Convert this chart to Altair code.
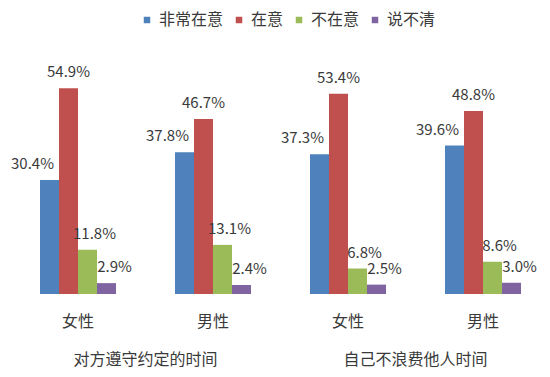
import altair as alt
import pandas as pd

TOPICS = ["对方遵守约定的时间", "自己不浪费他人时间"]
GENDERS = ["女性", "男性"]
SERIES = ["非常在意", "在意", "不在意", "说不清"]
COLORS = ["#4F81BD", "#C0504D", "#9BBB59", "#8064A2"]
VALUES = {
    "非常在意": [30.4, 37.8, 37.3, 39.6],
    "在意": [54.9, 46.7, 53.4, 48.8],
    "不在意": [11.8, 13.1, 6.8, 8.6],
    "说不清": [2.9, 2.4, 2.5, 3.0],
}

KEYS = [t + "|" + g for t in TOPICS for g in GENDERS]

rows = []
for s in SERIES:
    for k, v in zip(KEYS, VALUES[s]):
        rows.append({"key": k, "series": s, "value": v})
df = pd.DataFrame(rows)
df_cat = pd.DataFrame({"key": KEYS, "gender": [k.split("|")[1] for k in KEYS]})
df_top = pd.DataFrame({"key": [KEYS[0], KEYS[2]], "topic": TOPICS})

FONT = "Noto Sans CJK SC"
TXT = "#3a3a3a"

xenc = alt.X("key:N", sort=KEYS, axis=None,
             scale=alt.Scale(paddingInner=0.437, paddingOuter=0.1, align=1))
xoff = alt.XOffset("series:N", sort=SERIES, scale=alt.Scale(paddingInner=0, paddingOuter=0))
yenc = alt.Y("value:Q", scale=alt.Scale(domain=[0, 60]), axis=None)

bars = alt.Chart(df).mark_bar().encode(
    x=xenc, xOffset=xoff, y=yenc,
    color=alt.Color("series:N", sort=SERIES,
                    scale=alt.Scale(domain=SERIES, range=COLORS),
                    legend=alt.Legend(orient="none", legendX=126, legendY=-57,
                                      direction="horizontal", title=None,
                                      symbolType="square", symbolSize=42,
                                      symbolStrokeWidth=0,
                                      labelFontSize=16, labelFont=FONT,
                                      labelColor=TXT, columnPadding=7,
                                      labelOffset=4, padding=0)),
)

DX = {"非常在意": -17, "在意": 0, "不在意": 7, "说不清": 8}
texts = []
for s in SERIES:
    t = alt.Chart(df).transform_filter(alt.datum.series == s).transform_calculate(
        label="format(datum.value, '.1f') + '%'"
    ).mark_text(dx=DX[s], dy=-11, baseline="alphabetic", fontSize=15,
                font=FONT, color=TXT).encode(
        x=xenc, xOffset=xoff, y=yenc, text="label:N")
    texts.append(t)

cats = alt.Chart(df_cat).mark_text(baseline="middle", fontSize=16, font=FONT,
                                   color=TXT).encode(
    x=xenc, y=alt.value(253), text="gender:N")

tops = alt.Chart(df_top).mark_text(baseline="middle", fontSize=16, font=FONT,
                                   color=TXT, dx=67.5).encode(
    x=xenc, y=alt.value(291), text="topic:N")

chart = alt.layer(bars, *texts, cats, tops).properties(
    width=508, height=225,
    autosize=alt.AutoSizeParams(type="none"),
    padding={"left": 5, "top": 61, "right": 21, "bottom": 75},
    background="white",
).configure_view(stroke=None)

chart.save("out.html", embed_options={"renderer": "svg", "actions": False})
